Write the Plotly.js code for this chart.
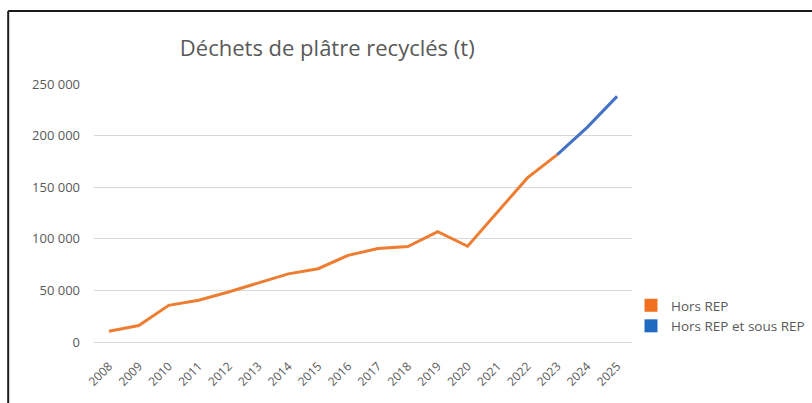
<!DOCTYPE html>
<html>
<head>
<meta charset="utf-8">
<script src="https://cdn.plot.ly/plotly-3.0.1.min.js"></script>
<style>
html,body{margin:0;padding:0;background:#fff;}
#chart{width:812px;height:403px;}
</style>
</head>
<body>
<div id="chart"></div>
<script>
const years = ["2008","2009","2010","2011","2012","2013","2014","2015","2016","2017","2018","2019","2020","2021","2022","2023","2024","2025"];
const horsRep = [10500, 16000, 35500, 40500, 48500, 57000, 66000, 71000, 84000, 90500, 92500, 107000, 92800, 126000, 159000, 181500, null, null];
const horsRepSousRep = [null, null, null, null, null, null, null, null, null, null, null, null, null, null, null, 181500, 208000, 238000];
const seriesNames = ["Hors REP", "Hors REP et sous REP"];
const yTicks = [0, 50000, 100000, 150000, 200000, 250000];

const grey = "#595959";
const font = "'Open Sans', 'Noto Sans', sans-serif";

const traces = [
  {x: years, y: horsRep, type: "scatter", mode: "lines", name: seriesNames[0],
   line: {color: "#ED7D31", width: 3}, showlegend: false, hoverinfo: "x+y"},
  {x: years, y: horsRepSousRep, type: "scatter", mode: "lines", name: seriesNames[1],
   line: {color: "#4472C4", width: 3}, showlegend: false, hoverinfo: "x+y"},
  {x: [null], y: [null], type: "scatter", mode: "markers", name: seriesNames[0],
   marker: {symbol: "square", size: 13, color: "#F07020"}},
  {x: [null], y: [null], type: "scatter", mode: "markers", name: seriesNames[1],
   marker: {symbol: "square", size: 13, color: "#1F6BC2"}}
];

const layout = {
  width: 812, height: 403,
  paper_bgcolor: "#fff", plot_bgcolor: "#fff",
  separators: ", ",
  margin: {l: 94, r: 180, t: 84, b: 61.3, pad: 0, autoexpand: false},
  font: {family: font, color: grey, size: 12},
  title: {text: "Déchets de plâtre recyclés (t)", x: 0.403, xanchor: "center",
          y: 0.881, yanchor: "middle", font: {family: font, size: 22, color: grey}},
  xaxis: {type: "category", categoryorder: "array", categoryarray: years,
          range: [-0.5, 17.5],
          tickangle: -45, showgrid: false, zeroline: false, showline: false,
          ticks: "", ticklabelstandoff: 14, tickfont: {size: 12, color: grey}, fixedrange: true},
  yaxis: {range: [0, 250000], tickvals: yTicks, tickformat: ",d",
          showgrid: true, gridcolor: "#d9d9d9", gridwidth: 1,
          zeroline: true, zerolinecolor: "#d9d9d9", zerolinewidth: 1,
          showline: false, ticks: "", ticklabelstandoff: 13,
          tickfont: {size: 13, color: grey}, fixedrange: true},
  legend: {xref: "container", yref: "container", x: 631 / 812, xanchor: "left",
           y: 1 - 316 / 403, yanchor: "middle",
           font: {size: 13.5, color: grey, family: font}, bgcolor: "rgba(0,0,0,0)",
           itemwidth: 30, tracegroupgap: 0},
  shapes: [
    {type: "line", xref: "paper", yref: "paper", x0: -0.1595, x1: -0.1595, y0: 1.2833, y1: -0.4,
     line: {color: "#1a1a1a", width: 2}},
    {type: "line", xref: "paper", yref: "paper", x0: -0.1595, x1: 1.4, y0: 1.2833, y1: 1.2833,
     line: {color: "#1a1a1a", width: 2}}
  ],
  showlegend: true
};

Plotly.newPlot("chart", traces, layout, {displayModeBar: false, staticPlot: true});
</script>
</body>
</html>
